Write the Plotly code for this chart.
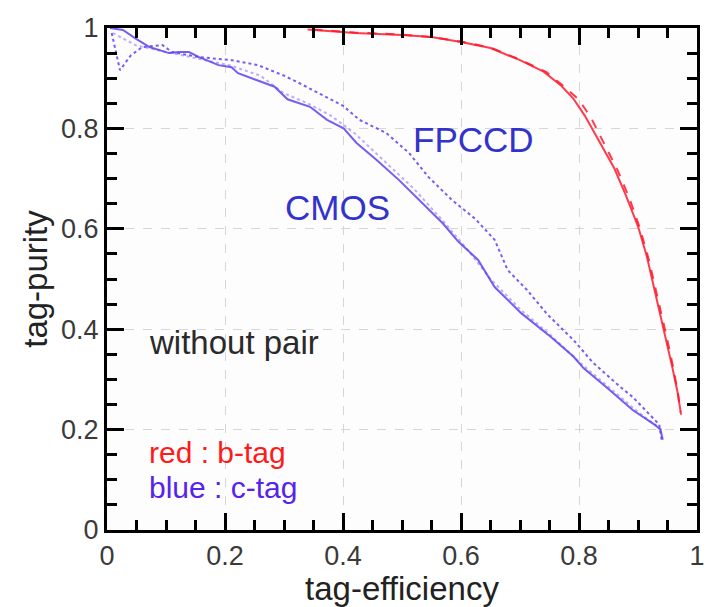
import plotly.graph_objects as go

# ---- data ----
red_solid_x = [0.34, 0.42, 0.50, 0.55, 0.60, 0.65, 0.70, 0.74, 0.77, 0.79, 0.81, 0.835, 0.86, 0.88, 0.90, 0.915, 0.93, 0.945, 0.958, 0.967, 0.973]
red_solid_y = [0.997, 0.990, 0.986, 0.982, 0.972, 0.960, 0.936, 0.913, 0.885, 0.860, 0.825, 0.772, 0.720, 0.665, 0.605, 0.545, 0.470, 0.392, 0.325, 0.275, 0.230]

red_dash_x = [0.35, 0.42, 0.50, 0.55, 0.60, 0.65, 0.70, 0.745, 0.775, 0.80, 0.82, 0.843, 0.865, 0.885, 0.903, 0.918, 0.933, 0.948, 0.960, 0.968, 0.972]
red_dash_y = [0.997, 0.991, 0.987, 0.982, 0.973, 0.961, 0.937, 0.912, 0.883, 0.857, 0.822, 0.770, 0.718, 0.662, 0.602, 0.540, 0.465, 0.388, 0.322, 0.270, 0.235]

blue_solid_x = [0.005, 0.027, 0.05, 0.072, 0.105, 0.122, 0.139, 0.156, 0.189, 0.211, 0.222, 0.256, 0.284, 0.306, 0.344, 0.373, 0.401, 0.423, 0.457, 0.495, 0.535, 0.569, 0.595, 0.629, 0.657, 0.702, 0.753, 0.791, 0.808, 0.846, 0.891, 0.928, 0.938, 0.942]
blue_solid_y = [1.0, 0.996, 0.978, 0.962, 0.950, 0.952, 0.952, 0.942, 0.926, 0.922, 0.910, 0.896, 0.883, 0.858, 0.843, 0.817, 0.800, 0.771, 0.737, 0.697, 0.651, 0.611, 0.575, 0.538, 0.484, 0.432, 0.384, 0.345, 0.322, 0.285, 0.239, 0.210, 0.200, 0.180]

blue_dot_x = [0.01, 0.05, 0.09, 0.13, 0.17, 0.21, 0.26, 0.30, 0.34, 0.38, 0.42, 0.47, 0.52, 0.57, 0.61, 0.65, 0.70, 0.75, 0.80, 0.85, 0.90, 0.94]
blue_dot_y = [0.99, 0.965, 0.955, 0.945, 0.935, 0.925, 0.905, 0.870, 0.850, 0.825, 0.790, 0.735, 0.680, 0.615, 0.560, 0.500, 0.440, 0.390, 0.335, 0.285, 0.235, 0.200]

blue_dash_x = [0.008, 0.022, 0.04, 0.06, 0.094, 0.11, 0.156, 0.211, 0.256, 0.30, 0.323, 0.36, 0.40, 0.428, 0.473, 0.512, 0.545, 0.585, 0.624, 0.657, 0.679, 0.712, 0.746, 0.791, 0.824, 0.870, 0.891, 0.936, 0.940]
blue_dash_y = [0.99, 0.916, 0.945, 0.962, 0.966, 0.952, 0.942, 0.936, 0.926, 0.905, 0.892, 0.870, 0.845, 0.817, 0.791, 0.751, 0.703, 0.657, 0.620, 0.578, 0.518, 0.478, 0.430, 0.378, 0.333, 0.285, 0.265, 0.210, 0.180]

tick_vals = [0, 0.2, 0.4, 0.6, 0.8, 1]
tick_text = ["0", "0.2", "0.4", "0.6", "0.8", "1"]

RED = "rgba(255,25,45,0.85)"
BLUE = "rgba(95,65,240,0.85)"
BLUE_FAINT = "rgba(130,110,245,0.55)"

fig = go.Figure()
fig.add_trace(go.Scatter(x=red_solid_x, y=red_solid_y, mode="lines", line=dict(color=RED, width=2)))
fig.add_trace(go.Scatter(x=red_dash_x, y=red_dash_y, mode="lines", line=dict(color=RED, width=2, dash="dash")))
fig.add_trace(go.Scatter(x=blue_dot_x, y=blue_dot_y, mode="lines", line=dict(color=BLUE_FAINT, width=2, dash="dot")))
fig.add_trace(go.Scatter(x=blue_solid_x, y=blue_solid_y, mode="lines", line=dict(color=BLUE, width=2)))
fig.add_trace(go.Scatter(x=blue_dash_x, y=blue_dash_y, mode="lines", line=dict(color=BLUE, width=2, dash="dot")))

for ax in ("x", "y"):
    upd = fig.update_xaxes if ax == "x" else fig.update_yaxes
    upd(
        range=[0, 1],
        tickvals=tick_vals,
        ticktext=tick_text,
        ticks="inside",
        ticklen=17,
        tickwidth=3,
        tickcolor="black",
        minor=dict(ticks="inside", dtick=0.05, ticklen=10, tickwidth=3, tickcolor="black"),
        showline=True,
        linecolor="black",
        linewidth=3,
        mirror="allticks",
        gridcolor="#d6d6d6",
        griddash="dash",
        zeroline=False,
        tickfont=dict(family="Liberation Sans, Arial", size=27, color="#3a3a3a"),
    )

fig.update_xaxes(title=dict(text="tag-efficiency", font=dict(family="Liberation Sans, Arial", size=33, color="#222222"), standoff=2))
fig.update_yaxes(title=dict(text="tag-purity", font=dict(family="Liberation Sans, Arial", size=33, color="#222222"), standoff=4))

ann = [
    dict(x=0.622, y=0.777, text="FPCCD", font=dict(family="Liberation Sans, Arial", size=35, color="#3333cc"), xanchor="center", yanchor="middle"),
    dict(x=0.391, y=0.642, text="CMOS", font=dict(family="Liberation Sans, Arial", size=35, color="#3333cc"), xanchor="center", yanchor="middle"),
    dict(x=0.068, y=0.373, text="without pair", font=dict(family="Liberation Sans, Arial", size=33, color="#2a2a2a"), xanchor="left", yanchor="middle"),
    dict(x=0.068, y=0.155, text="red : b-tag", font=dict(family="Liberation Sans, Arial", size=30, color="#ff1a1a"), xanchor="left", yanchor="middle"),
    dict(x=0.068, y=0.085, text="blue : c-tag", font=dict(family="Liberation Sans, Arial", size=30, color="#5522ee"), xanchor="left", yanchor="middle"),
]
for a in ann:
    a.update(xref="x", yref="y", showarrow=False)

fig.update_layout(
    width=715, height=607,
    margin=dict(l=107, r=10, t=28, b=77),
    paper_bgcolor="white",
    plot_bgcolor="#fdfdfd",
    showlegend=False,
    annotations=ann,
)

fig.write_html("out.html")
